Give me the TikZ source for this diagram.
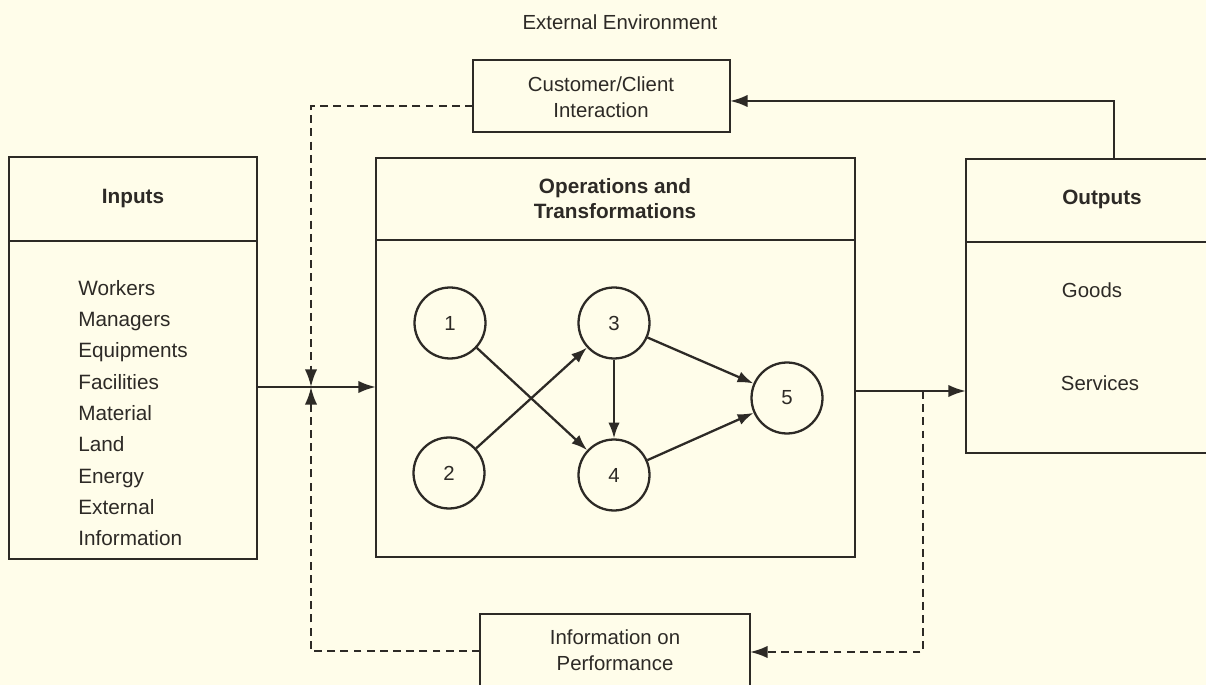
\documentclass[tikz,border=0pt]{standalone}
\usepackage{fontspec}
\setmainfont{Liberation Sans}
\usetikzlibrary{arrows.meta}
\definecolor{paper}{RGB}{255,253,234}
\definecolor{ink}{RGB}{45,42,38}
\begin{document}
\begin{tikzpicture}[x=0.02cm,y=-0.02cm,
  box/.style={draw=ink, line width=1.4pt, rectangle, inner sep=0pt, outer sep=0pt, anchor=north west},
  stage/.style={circle, draw=ink, line width=1.3pt, minimum size=1.42cm, inner sep=0pt, text=ink, font=\fontsize{11.6}{13}\selectfont},
  txt/.style={text=ink, inner sep=0pt, font=\fontsize{11.6}{14.7}\selectfont, align=center},
  listtxt/.style={text=ink, inner sep=0pt, font=\fontsize{11.8}{17.8}\selectfont, align=left, anchor=north west},
  head/.style={text=ink, inner sep=0pt, font=\bfseries\fontsize{11.8}{14.2}\selectfont, align=center},
  divider/.style={draw=ink, line width=1.4pt},
  flow/.style={draw=ink, line width=1.4pt, -{Latex[length=10pt,width=7pt]}},
  feedback/.style={flow, line width=1.3pt, dash pattern=on 4.5pt off 3pt},
  link/.style={draw=ink, line width=1.3pt, -{Latex[length=9pt,width=6.5pt]}}]
\clip (0,0) rectangle (1206,685);
\fill[paper] (0,0) rectangle (1206,685);

% title
\node[txt] (env) at (620,22) {External Environment};

% boxes
\node[box, minimum width=4.96cm, minimum height=8.04cm] (inputs) at (9,157) {};
\draw[divider] (inputs.west |- 0,241) -- (inputs.east |- 0,241);
\node[head] (inputsT) at (133,199) {Inputs};
\node[listtxt] (inputsL) at (78,280) {Workers\\Managers\\Equipments\\Facilities\\Material\\Land\\Energy\\External\\Information};

\node[box, minimum width=9.58cm, minimum height=7.98cm] (ops) at (376,158) {};
\draw[divider] (ops.west |- 0,240) -- (ops.east |- 0,240);
\node[head] (opsT) at (615,199) {Operations and\\Transformations};

\node[box, minimum width=5.08cm, minimum height=5.88cm] (outputs) at (966,159) {};
\draw[divider] (outputs.west |- 0,242) -- (outputs.east |- 0,242);
\node[head] (outputsT) at (1102,199) {Outputs};
\node[txt] (goods) at (1092,290) {Goods};
\node[txt] (services) at (1100,383) {Services};

\node[box, minimum width=5.14cm, minimum height=1.44cm] (cust) at (473,60) {};
\node[txt] (custT) at (601,97) {Customer/Client\\Interaction};

\node[box, minimum width=5.4cm, minimum height=1.72cm] (info) at (480,614) {};
\node[txt] (infoT) at (615,650) {Information on\\Performance};

% network
\node[stage] (c1) at (450,323) {1};
\node[stage] (c2) at (449,473) {2};
\node[stage] (c3) at (614,323) {3};
\node[stage] (c4) at (614,475) {4};
\node[stage] (c5) at (787,398) {5};
\draw[link] (c1) -- (c4);
\draw[link] (c2) -- (c3);
\draw[link] (c3) -- (c4);
\draw[link] (c3) -- (c5);
\draw[link] (c4) -- (c5);

% main flow
\coordinate (J) at (311,387);
\coordinate (K) at (923,391);
\draw[flow] (inputs.east |- 0,387) -- (ops.west |- 0,387);
\draw[flow] (ops.east |- 0,391) -- (outputs.west |- 0,391);
\draw[flow] (outputs.north -| 1114,0) |- (cust.east |- 0,101);

% feedback
\draw[feedback] (cust.west |- 0,106) -| (J);
\draw[feedback] (info.west |- 0,651) -| (J);
\draw[feedback] (K) |- (info.east |- 0,652);
\end{tikzpicture}
\end{document}
